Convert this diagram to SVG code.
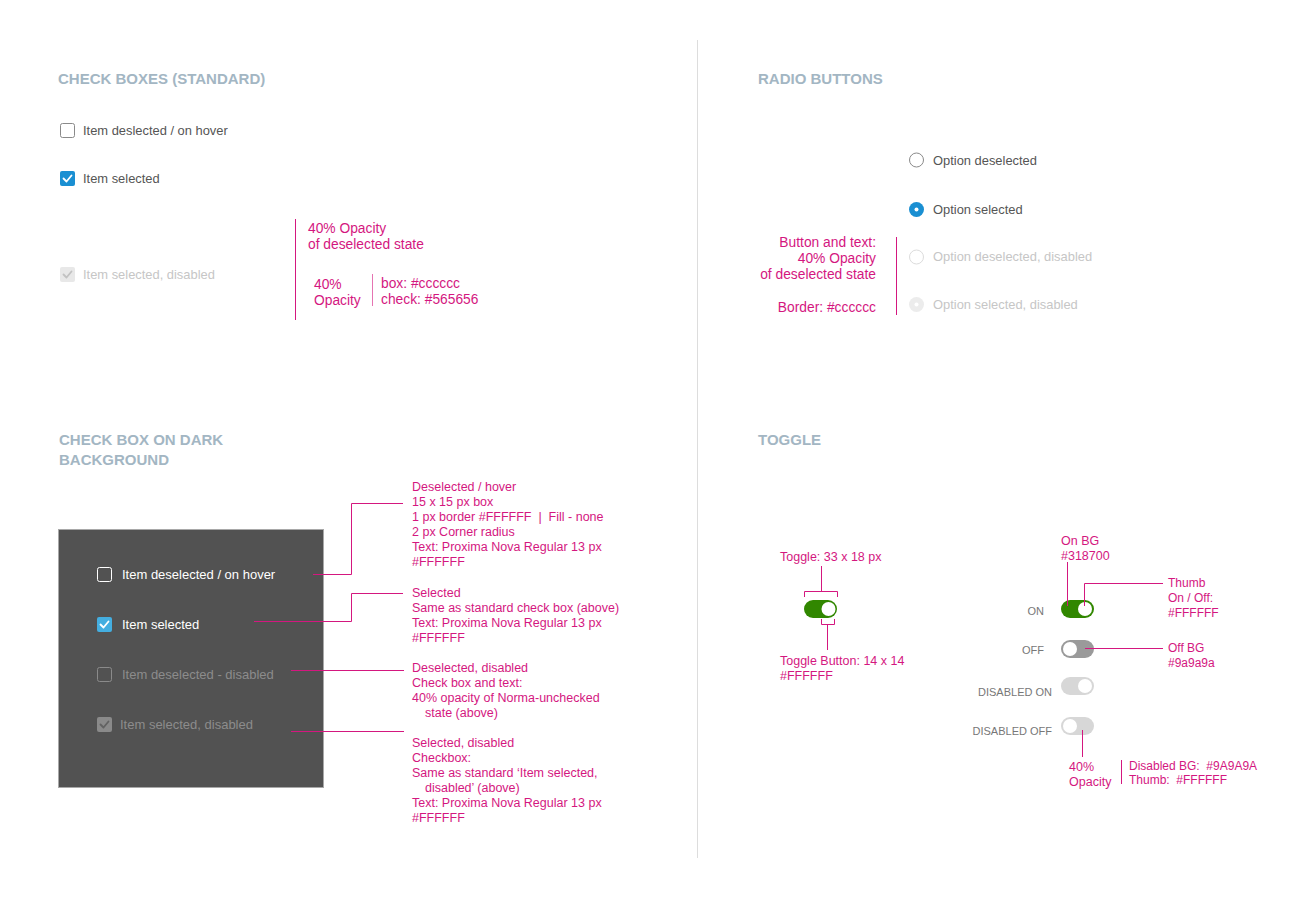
<svg xmlns="http://www.w3.org/2000/svg" width="1306" height="900" viewBox="0 0 1306 900">
<style>
text{font-family:"Liberation Sans",Arial,sans-serif}
.h{font-size:15px;font-weight:bold;fill:#a3b6c3}
.t{font-size:12.9px;fill:#555}
.dis{font-size:12.9px;fill:#c6c6c6}
.w{font-size:13px;fill:#fff}
.wd{font-size:13px;fill:#8c8c8c}
.m{font-size:12.5px;fill:#d4177f}
.mb{font-size:13.8px;fill:#d4177f}
.ms{font-size:12px;fill:#d4177f}
.lab{font-size:11px;fill:#777}
.ln{stroke:#d4177f;stroke-width:1;fill:none}
.ck{fill:none;stroke-width:1.8;stroke-linecap:round;stroke-linejoin:round}
</style>
<rect width="1306" height="900" fill="#fff"/>
<line x1="697.5" y1="40" x2="697.5" y2="858" stroke="#ddd" stroke-width="1"/>

<g id="headers">
<text class="h" x="58" y="84">CHECK BOXES (STANDARD)</text>
<text class="h" x="758" y="84">RADIO BUTTONS</text>
<text class="h" x="59" y="445">CHECK BOX ON DARK</text>
<text class="h" x="59" y="465">BACKGROUND</text>
<text class="h" x="758" y="445">TOGGLE</text>
</g>

<g id="cb-deselected">
<rect x="60.5" y="123.5" width="14" height="14" rx="2" fill="#fff" stroke="#8a8a8a"/>
<text class="t" x="83" y="135">Item deslected / on hover</text>
</g>
<g id="cb-selected">
<rect x="60" y="171" width="15" height="15" rx="2" fill="#1a8fd2"/>
<path class="ck" d="M63.5,178.5 L66.5,181.5 L71.5,175.5" stroke="#fff"/>
<text class="t" x="83" y="183">Item selected</text>
</g>
<g id="cb-disabled">
<rect x="60" y="267" width="15" height="15" rx="2" fill="#e8e8e8"/>
<path class="ck" d="M63.5,274.5 L66.5,277.5 L71.5,271.5" stroke="#c2c2c2"/>
<text class="dis" x="83" y="279">Item selected, disabled</text>
</g>
<g id="cb-note">
<line class="ln" x1="295.5" y1="219" x2="295.5" y2="320"/>
<text class="mb" x="308" y="233">40% Opacity</text>
<text class="mb" x="308" y="249">of deselected state</text>
<text class="mb" x="314" y="289">40%</text>
<text class="mb" x="314" y="305">Opacity</text>
<line class="ln" x1="372.5" y1="274" x2="372.5" y2="306" stroke-opacity="0.6"/>
<text class="mb" x="381" y="288">box: #cccccc</text>
<text class="mb" x="381" y="304">check: #565656</text>
</g>

<g id="rb-deselected">
<circle cx="916.5" cy="160" r="7" fill="#fff" stroke="#8a8a8a"/>
<text class="t" x="933" y="165">Option deselected</text>
</g>
<g id="rb-selected">
<circle cx="916.5" cy="209.5" r="7.5" fill="#1a8fd2"/>
<circle cx="916.5" cy="209.5" r="2" fill="#fff"/>
<text class="t" x="933" y="214">Option selected</text>
</g>
<g id="rb-deselected-disabled">
<circle cx="916.5" cy="257" r="7" fill="#fff" stroke="#dcdcdc"/>
<text class="dis" x="933" y="261">Option deselected, disabled</text>
</g>
<g id="rb-selected-disabled">
<circle cx="916.5" cy="304.5" r="7.5" fill="#ececec"/>
<circle cx="916.5" cy="304.5" r="2" fill="#fff"/>
<text class="dis" x="933" y="309">Option selected, disabled</text>
</g>
<g id="rb-note">
<text class="mb" x="876" y="247" text-anchor="end">Button and text:</text>
<text class="mb" x="876" y="263" text-anchor="end">40% Opacity</text>
<text class="mb" x="876" y="279" text-anchor="end">of deselected state</text>
<text class="mb" x="876" y="312" text-anchor="end">Border: #cccccc</text>
<line class="ln" x1="896.5" y1="237" x2="896.5" y2="315"/>
</g>

<g id="dark-panel">
<rect x="58.5" y="529.5" width="265" height="258" fill="#525252" stroke="#a8a8a8"/>
</g>
<g id="dk-deselected">
<rect x="97.5" y="567.5" width="14" height="14" rx="2" fill="none" stroke="#fff"/>
<text class="w" x="122" y="579">Item deselected / on hover</text>
</g>
<g id="dk-selected">
<rect x="97" y="617" width="15" height="15" rx="2" fill="#44aee0"/>
<path class="ck" d="M100.5,624.5 L103.5,627.5 L108.5,621.5" stroke="#fff"/>
<text class="w" x="122" y="629">Item selected</text>
</g>
<g id="dk-deselected-disabled">
<rect x="97.5" y="667.5" width="14" height="14" rx="2" fill="none" stroke="#8a8a8a"/>
<text class="wd" x="122" y="679">Item deselected - disabled</text>
</g>
<g id="dk-selected-disabled">
<rect x="97" y="717" width="15" height="15" rx="2" fill="#8a8a8a"/>
<path class="ck" d="M100.5,724.5 L103.5,727.5 L108.5,721.5" stroke="#626262"/>
<text class="wd" x="120" y="729">Item selected, disabled</text>
</g>

<g id="dk-notes">
<text class="m" x="412" y="491">Deselected / hover</text>
<text class="m" x="412" y="506">15 x 15 px box</text>
<text class="m" x="412" y="521" xml:space="preserve">1 px border #FFFFFF  |  Fill - none</text>
<text class="m" x="412" y="536">2 px Corner radius</text>
<text class="m" x="412" y="551">Text: Proxima Nova Regular 13 px</text>
<text class="m" x="412" y="566">#FFFFFF</text>
<text class="m" x="412" y="597">Selected</text>
<text class="m" x="412" y="612">Same as standard check box (above)</text>
<text class="m" x="412" y="627">Text: Proxima Nova Regular 13 px</text>
<text class="m" x="412" y="642">#FFFFFF</text>
<text class="m" x="412" y="672">Deselected, disabled</text>
<text class="m" x="412" y="687">Check box and text:</text>
<text class="m" x="412" y="702">40% opacity of Norma-unchecked</text>
<text class="m" x="425" y="717">state (above)</text>
<text class="m" x="412" y="747">Selected, disabled</text>
<text class="m" x="412" y="762">Checkbox:</text>
<text class="m" x="412" y="777">Same as standard ‘Item selected,</text>
<text class="m" x="425" y="792">disabled’ (above)</text>
<text class="m" x="412" y="807">Text: Proxima Nova Regular 13 px</text>
<text class="m" x="412" y="822">#FFFFFF</text>
</g>

<g id="toggle-spec">
<text class="m" x="780" y="561">Toggle: 33 x 18 px</text>
<rect x="804" y="600" width="33" height="18" rx="9" fill="#318700"/>
<circle cx="828.5" cy="609" r="7" fill="#fff"/>
<text class="m" x="780" y="665">Toggle Button: 14 x 14</text>
<text class="m" x="780" y="680">#FFFFFF</text>
</g>

<g id="toggle-on">
<text class="lab" x="1044" y="615" text-anchor="end">ON</text>
<rect x="1061" y="600" width="33" height="18" rx="9" fill="#318700"/>
<circle cx="1085" cy="609" r="7" fill="#fff"/>
</g>
<g id="toggle-off">
<text class="lab" x="1044" y="654" text-anchor="end">OFF</text>
<rect x="1061" y="640" width="33" height="18" rx="9" fill="#9a9a9a"/>
<circle cx="1070" cy="649" r="7" fill="#fff"/>
</g>
<g id="toggle-disabled-on">
<text class="lab" x="1052" y="696" text-anchor="end">DISABLED ON</text>
<rect x="1061" y="677" width="33" height="18" rx="9" fill="#d7d7d7"/>
<circle cx="1085" cy="686" r="7" fill="#fff"/>
</g>
<g id="toggle-disabled-off">
<text class="lab" x="1052" y="735" text-anchor="end">DISABLED OFF</text>
<rect x="1061" y="717" width="33" height="18" rx="9" fill="#d7d7d7"/>
<circle cx="1070" cy="726" r="7" fill="#fff"/>
</g>
<g id="toggle-notes">
<text class="m" x="1061" y="545">On BG</text>
<text class="m" x="1061" y="560">#318700</text>
<text class="ms" x="1168" y="587">Thumb</text>
<text class="ms" x="1168" y="602">On / Off:</text>
<text class="ms" x="1168" y="617">#FFFFFF</text>
<text class="ms" x="1168" y="652">Off BG</text>
<text class="ms" x="1168" y="667">#9a9a9a</text>
<text class="m" x="1069" y="771">40%</text>
<text class="m" x="1069" y="786">Opacity</text>
<text class="ms" x="1129" y="770" xml:space="preserve">Disabled BG:  #9A9A9A</text>
<text class="ms" x="1129" y="784" xml:space="preserve">Thumb:  #FFFFFF</text>
</g>

<g id="connectors">
<path class="ln" d="M313,574.5 H351.5 V503.5 H403"/>
<path class="ln" d="M254,621.5 H351.5 V593.5 H403"/>
<path class="ln" d="M291,670.5 H404"/>
<path class="ln" d="M291,731.5 H404"/>
<path class="ln" d="M821.5,566 V591.5 M804.5,597 V591.5 H837.5 V597"/>
<path class="ln" d="M821.5,619 V624.5 H834.5 V619 M827.5,624.5 V650"/>
<path class="ln" d="M1067.5,562 V606"/>
<path class="ln" d="M1084.5,606 V583.5 H1163"/>
<path class="ln" d="M1085,648.5 H1163"/>
<path class="ln" d="M1082.5,730 V757"/>
<line class="ln" x1="1121.5" y1="760" x2="1121.5" y2="784"/>
</g>
</svg>
